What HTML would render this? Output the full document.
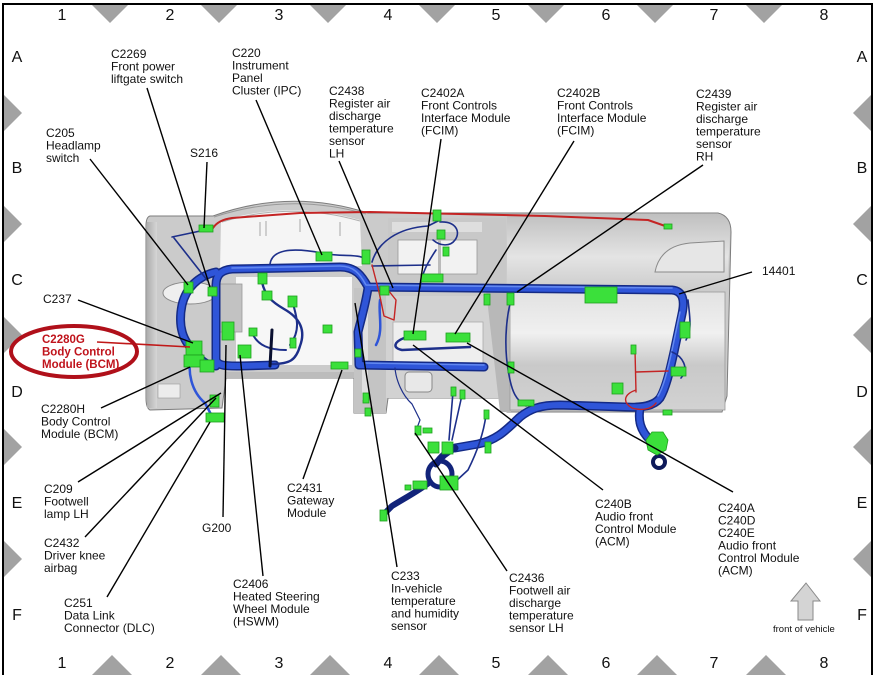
<!DOCTYPE html>
<html><head><meta charset="utf-8"><style>
html,body{margin:0;padding:0;background:#fff;}
svg{display:block;}
text{font-family:"Liberation Sans",Arial,sans-serif;}
</style></head><body>
<svg width="877" height="675" viewBox="0 0 877 675" xmlns="http://www.w3.org/2000/svg">
<defs>
<linearGradient id="gR" x1="0" y1="0" x2="0" y2="1"><stop offset="0" stop-color="#c0c0c0"/><stop offset=".55" stop-color="#e4e4e4"/><stop offset="1" stop-color="#cacaca"/></linearGradient>
<linearGradient id="gG" x1="0" y1="0" x2="0" y2="1"><stop offset="0" stop-color="#e2e2e2"/><stop offset=".35" stop-color="#f0f0f0"/><stop offset=".62" stop-color="#c9c9c9"/><stop offset="1" stop-color="#d2d2d2"/></linearGradient>
<linearGradient id="gL" x1="0" y1="0" x2="1" y2="0"><stop offset="0" stop-color="#aeaeae"/><stop offset="1" stop-color="#d6d6d6"/></linearGradient>
</defs>
<rect width="877" height="675" fill="#fff"/>
<!-- frame -->
<rect x="3" y="4" width="869" height="700" fill="none" stroke="#000" stroke-width="2"/>
<g fill="#a2a2a2">
<polygon points="92,5 128,5 110,23"/><polygon points="201,5 237,5 219,23"/><polygon points="310,5 346,5 328,23"/><polygon points="419,5 455,5 437,23"/><polygon points="528,5 564,5 546,23"/><polygon points="637,5 673,5 655,23"/><polygon points="746,5 782,5 764,23"/>
<polygon points="91,676 133,676 112,655"/><polygon points="200,676 242,676 221,655"/><polygon points="309,676 351,676 330,655"/><polygon points="418,676 460,676 439,655"/><polygon points="527,676 569,676 548,655"/><polygon points="636,676 678,676 657,655"/><polygon points="745,676 787,676 766,655"/>
<polygon points="4,95 4,131 22,113"/><polygon points="4,206 4,242 22,224"/><polygon points="4,317 4,353 22,335"/><polygon points="4,429 4,465 22,447"/><polygon points="4,541 4,577 22,559"/>
<polygon points="871,95 871,131 853,113"/><polygon points="871,206 871,242 853,224"/><polygon points="871,317 871,353 853,335"/><polygon points="871,429 871,465 853,447"/><polygon points="871,541 871,577 853,559"/>
</g>
<g font-size="16" fill="#111" text-anchor="middle">
<text x="62" y="20">1</text><text x="170" y="20">2</text><text x="279" y="20">3</text><text x="388" y="20">4</text><text x="496" y="20">5</text><text x="606" y="20">6</text><text x="714" y="20">7</text><text x="824" y="20">8</text>
<text x="62" y="668">1</text><text x="170" y="668">2</text><text x="279" y="668">3</text><text x="388" y="668">4</text><text x="496" y="668">5</text><text x="606" y="668">6</text><text x="714" y="668">7</text><text x="824" y="668">8</text>
<text x="17" y="62">A</text><text x="17" y="173">B</text><text x="17" y="285">C</text><text x="17" y="397">D</text><text x="17" y="508">E</text><text x="17" y="620">F</text>
<text x="862" y="62">A</text><text x="862" y="173">B</text><text x="862" y="285">C</text><text x="862" y="397">D</text><text x="862" y="508">E</text><text x="862" y="620">F</text>
</g>

<!-- dashboard body -->
<path d="M150,216 L213,216 Q290,188 368,213 L718,213 Q731,216 731,232 L727,396 L722,412 L507,412 L505,398 L388,398 L386,413 L354,413 L354,378 L226,378 L222,408 L150,410 Q146,408 146,398 L146,226 Q146,217 150,216 Z" fill="#cbcbcb" stroke="#7d7d7d"/>
<rect x="147" y="222" width="10" height="186" fill="url(#gL)"/>
<path d="M221,221 Q290,200 360,220 L362,266 L220,270 Z" fill="#f5f5f5"/>
<g stroke="#b4b4b4" stroke-width="1.2">
<line x1="260" y1="222" x2="260" y2="236"/><line x1="266" y1="221" x2="266" y2="236"/><line x1="300" y1="219" x2="300" y2="232"/><line x1="340" y1="222" x2="340" y2="236"/>
</g>
<path d="M214,217 Q290,192 366,214" fill="none" stroke="#9a9a9a"/>
<path d="M222,222 Q290,201 360,221" fill="none" stroke="#b0b0b0"/>
<rect x="236" y="277" width="116" height="88" fill="#f7f7f7"/>
<rect x="216" y="284" width="26" height="48" fill="#c2c2c2" stroke="#999" stroke-width=".8"/>
<ellipse cx="190" cy="293" rx="27" ry="11" fill="#efefef" stroke="#8a8a8a"/>
<rect x="158" y="384" width="22" height="14" fill="#ececec" stroke="#999" stroke-width=".6"/>
<rect x="226" y="372" width="128" height="6" fill="#bcbcbc"/>
<rect x="354" y="288" width="32" height="125" fill="#c4c4c4"/>
<rect x="362" y="300" width="6" height="100" fill="#e0e0e0"/>
<rect x="388" y="218" width="118" height="70" fill="#c8c8c8"/>
<rect x="398" y="240" width="79" height="34" fill="#f2f2f2" stroke="#999" stroke-width=".8"/>
<rect x="438" y="240" width="3" height="34" fill="#bbb"/>
<rect x="392" y="222" width="90" height="10" fill="#dedede"/>
<rect x="386" y="296" width="120" height="102" fill="#d2d2d2"/>
<rect x="393" y="322" width="90" height="44" fill="#eeeeee" stroke="#aaa" stroke-width=".8"/>
<rect x="405" y="372" width="27" height="20" rx="4" fill="#e8e8e8" stroke="#888"/>
<path d="M507,214 L718,214 Q730,216 730,232 L727,292 L507,292 Z" fill="url(#gR)"/>
<path d="M655,272 Q660,246 690,243 L724,241 L724,272 Z" fill="#e6e6e6" stroke="#8a8a8a"/>
<polygon points="486,290 508,290 511,412 500,412" fill="#b8b8b8"/>
<rect x="510" y="292" width="215" height="118" fill="url(#gG)" stroke="#999" stroke-width=".8"/>

<!-- harness -->
<g fill="none" stroke-linecap="round" stroke-linejoin="round">
<path d="M213,228 Q218,220 232,218 L300,213 L370,212 L545,216 L648,220 L668,227" stroke="#c42424" stroke-width="2"/>
<g stroke="#142a86" stroke-width="9">
<path d="M216,322 L216,285 C216,274 222,270 232,269 L340,267 C356,267 362,276 368,287 L672,290 C683,291 685,300 682,314 L674,352 C670,370 666,388 660,398 C654,406 642,408 625,407 L560,405 C540,405 530,409 520,417 C508,428 498,440 478,444 L455,448"/>
<path d="M216,272 C198,276 186,288 182,305 C178,325 182,342 196,352 C200,360 205,365 216,366"/>
<path d="M216,318 L216,360 C218,366 226,366 240,366 L275,365"/>
<path d="M368,288 C366,302 362,316 358,332 L359,365 L484,367"/>
<path d="M640,408 C638,420 640,430 650,440"/>
</g>
<g stroke="#2f55d8" stroke-width="6">
<path d="M216,322 L216,285 C216,274 222,270 232,269 L340,267 C356,267 362,276 368,287 L672,290 C683,291 685,300 682,314 L674,352 C670,370 666,388 660,398 C654,406 642,408 625,407 L560,405 C540,405 530,409 520,417 C508,428 498,440 478,444 L455,448"/>
<path d="M216,272 C198,276 186,288 182,305 C178,325 182,342 196,352 C200,360 205,365 216,366"/>
<path d="M216,318 L216,360 C218,366 226,366 240,366 L275,365"/>
<path d="M368,288 C366,302 362,316 358,332 L359,365 L484,367"/>
<path d="M640,408 C638,420 640,430 650,440"/>
</g>
<g stroke="#6288f0" stroke-width="1.6">
<path d="M232,268 L340,266 C354,266 360,274 366,285 L672,288"/>
<path d="M366,363 L484,365"/>
<path d="M680,312 L672,350 C668,368 664,386 658,396"/>
</g>
<g stroke="#12237a">
<path d="M455,448 C446,452 440,458 436,464" stroke-width="7"/>
<ellipse cx="440" cy="474" rx="12" ry="13" stroke-width="5"/>
<path d="M430,482 C420,490 405,498 392,506 L384,514" stroke-width="6"/>
<circle cx="659" cy="462" r="6" stroke="#0e1a5a" stroke-width="4"/>
</g>
<g stroke="#1d2f8a" stroke-width="1.6">
<path d="M174,238 L207,280"/><path d="M172,237 L205,230"/>
<path d="M270,264 C272,250 290,247 322,253 C345,258 362,252 368,262"/>
<path d="M372,262 C378,242 398,228 428,226 L440,220"/>
<path d="M440,222 C456,221 461,232 455,240 C450,247 440,246 433,240"/>
<path d="M372,266 L430,265"/>
<path d="M420,288 C422,272 428,262 436,250"/>
<path d="M262,282 C265,296 272,302 284,309 C300,318 306,330 300,346 C296,360 290,364 272,364" stroke-width="2.4"/>
<path d="M292,300 C297,318 301,330 290,345" stroke-width="2"/>
<path d="M252,333 C258,346 270,350 286,350" stroke-width="2"/>
<path d="M272,330 L270,366" stroke="#0a1030" stroke-width="3"/>
<path d="M512,296 C505,320 504,350 509,375 C512,392 516,400 526,406"/>
<path d="M688,300 C690,318 692,330 686,340"/>
<path d="M672,352 C682,356 690,368 681,378"/>
<path d="M395,368 C396,380 402,395 412,404 L420,420 L417,428" stroke-width="1.2"/>
<path d="M453,392 L449,440"/><path d="M462,395 L452,440"/>
<path d="M486,415 C484,430 478,450 468,470 L455,482"/>
<path d="M380,300 C378,315 384,330 376,345" stroke="#2f55d8" stroke-width="2.5"/>
<path d="M404,338 C394,342 392,348 402,350 L470,347" stroke-width="2.5"/>
<path d="M192,352 C186,372 192,392 205,403 L214,420" stroke="#2f55d8" stroke-width="2.5"/>
</g>
<g stroke="#c42424" stroke-width="1.4">
<path d="M372,265 L379,292 L384,316 L394,320 L396,300 L388,290"/>
<path d="M635,350 L636,392 M636,372 L668,371 M636,390 C624,394 622,402 632,408 C642,411 652,409 656,403"/>
</g>
</g>

<!-- connectors -->
<g fill="#3be03b" stroke="#1fa01f" stroke-width=".8">
<rect x="199" y="225" width="14" height="7"/>
<rect x="184" y="282" width="9" height="11"/><rect x="208" y="287" width="9" height="9"/>
<rect x="186" y="341" width="16" height="14"/><rect x="184" y="355" width="20" height="12"/><rect x="200" y="360" width="14" height="12"/>
<rect x="222" y="322" width="12" height="18"/><rect x="238" y="345" width="13" height="13"/>
<rect x="258" y="273" width="9" height="11"/><rect x="262" y="291" width="10" height="9"/><rect x="288" y="296" width="9" height="11"/><rect x="249" y="328" width="8" height="8"/><rect x="290" y="338" width="6" height="10"/>
<rect x="316" y="252" width="16" height="9"/><rect x="323" y="325" width="9" height="8"/><rect x="331" y="362" width="17" height="7"/>
<rect x="362" y="250" width="8" height="14"/><rect x="355" y="349" width="6" height="8"/><rect x="363" y="393" width="6" height="10"/><rect x="365" y="408" width="6" height="8"/>
<rect x="380" y="286" width="9" height="9"/>
<rect x="433" y="210" width="8" height="11"/><rect x="437" y="230" width="8" height="9"/><rect x="443" y="247" width="6" height="9"/>
<rect x="421" y="274" width="22" height="8"/>
<rect x="404" y="331" width="22" height="9"/><rect x="446" y="333" width="24" height="9"/>
<rect x="507" y="293" width="7" height="12"/><rect x="484" y="294" width="6" height="11"/>
<rect x="585" y="287" width="32" height="16"/>
<rect x="680" y="322" width="10" height="16"/><rect x="631" y="345" width="5" height="9"/><rect x="671" y="367" width="15" height="9"/><rect x="612" y="383" width="11" height="11"/><rect x="508" y="362" width="6" height="11"/><rect x="518" y="400" width="16" height="6"/><rect x="663" y="410" width="9" height="5"/><rect x="664" y="224" width="8" height="5"/>
<rect x="415" y="426" width="6" height="9"/><rect x="423" y="428" width="9" height="5"/><rect x="428" y="442" width="11" height="11"/><rect x="442" y="442" width="11" height="12"/>
<rect x="451" y="387" width="5" height="9"/><rect x="460" y="390" width="5" height="9"/><rect x="484" y="410" width="5" height="9"/><rect x="485" y="442" width="6" height="11"/>
<rect x="413" y="481" width="14" height="8"/><rect x="405" y="485" width="6" height="5"/><rect x="440" y="476" width="18" height="14"/><rect x="380" y="510" width="7" height="11"/>
<rect x="210" y="395" width="9" height="12"/><rect x="206" y="413" width="18" height="9"/>
<polygon points="652,432 663,432 668,440 666,450 657,455 648,450 646,440"/>
</g>

<!-- leader lines -->
<g stroke="#000" stroke-width="1.4" fill="none">
<line x1="147" y1="88" x2="210" y2="287"/>
<line x1="256" y1="100" x2="322" y2="255"/>
<line x1="339" y1="161" x2="393" y2="288"/>
<line x1="441" y1="139" x2="413" y2="334"/>
<line x1="574" y1="141" x2="455" y2="334"/>
<line x1="703" y1="165" x2="517" y2="292"/>
<line x1="752" y1="272" x2="679" y2="294"/>
<line x1="90" y1="159" x2="188" y2="285"/>
<line x1="207" y1="162" x2="204" y2="228"/>
<line x1="78" y1="300" x2="193" y2="343"/>
<line x1="101" y1="408" x2="190" y2="367"/>
<line x1="78" y1="482" x2="221" y2="393"/>
<line x1="85" y1="537" x2="216" y2="398"/>
<line x1="107" y1="597" x2="210" y2="422"/>
<line x1="223" y1="517" x2="226" y2="345"/>
<line x1="263" y1="576" x2="240" y2="355"/>
<line x1="303" y1="479" x2="342" y2="370"/>
<line x1="397" y1="567" x2="355" y2="303"/>
<line x1="507" y1="571" x2="415" y2="433"/>
<line x1="603" y1="490" x2="413" y2="345"/>
<line x1="733" y1="492" x2="467" y2="343"/>
</g>
<line x1="97" y1="342" x2="190" y2="347" stroke="#c01818" stroke-width="1.6"/>
<ellipse cx="74" cy="351.5" rx="63" ry="25.5" fill="none" stroke="#b0101a" stroke-width="4"/>

<!-- labels -->
<g font-size="12" fill="#111">
<text x="111" y="58">C2269<tspan x="111" dy="12.5">Front power</tspan><tspan x="111" dy="12.5">liftgate switch</tspan></text>
<text x="232" y="57">C220<tspan x="232" dy="12.5">Instrument</tspan><tspan x="232" dy="12.5">Panel</tspan><tspan x="232" dy="12.5">Cluster (IPC)</tspan></text>
<text x="329" y="95">C2438<tspan x="329" dy="12.5">Register air</tspan><tspan x="329" dy="12.5">discharge</tspan><tspan x="329" dy="12.5">temperature</tspan><tspan x="329" dy="12.5">sensor</tspan><tspan x="329" dy="12.5">LH</tspan></text>
<text x="421" y="97">C2402A<tspan x="421" dy="12.5">Front Controls</tspan><tspan x="421" dy="12.5">Interface Module</tspan><tspan x="421" dy="12.5">(FCIM)</tspan></text>
<text x="557" y="97">C2402B<tspan x="557" dy="12.5">Front Controls</tspan><tspan x="557" dy="12.5">Interface Module</tspan><tspan x="557" dy="12.5">(FCIM)</tspan></text>
<text x="696" y="98">C2439<tspan x="696" dy="12.5">Register air</tspan><tspan x="696" dy="12.5">discharge</tspan><tspan x="696" dy="12.5">temperature</tspan><tspan x="696" dy="12.5">sensor</tspan><tspan x="696" dy="12.5">RH</tspan></text>
<text x="46" y="137">C205<tspan x="46" dy="12.5">Headlamp</tspan><tspan x="46" dy="12.5">switch</tspan></text>
<text x="190" y="157">S216</text>
<text x="762" y="275">14401</text>
<text x="43" y="303">C237</text>
<text x="41" y="413">C2280H<tspan x="41" dy="12.5">Body Control</tspan><tspan x="41" dy="12.5">Module (BCM)</tspan></text>
<text x="44" y="493">C209<tspan x="44" dy="12.5">Footwell</tspan><tspan x="44" dy="12.5">lamp LH</tspan></text>
<text x="44" y="547">C2432<tspan x="44" dy="12.5">Driver knee</tspan><tspan x="44" dy="12.5">airbag</tspan></text>
<text x="202" y="532">G200</text>
<text x="287" y="492">C2431<tspan x="287" dy="12.5">Gateway</tspan><tspan x="287" dy="12.5">Module</tspan></text>
<text x="391" y="580">C233<tspan x="391" dy="12.5">In-vehicle</tspan><tspan x="391" dy="12.5">temperature</tspan><tspan x="391" dy="12.5">and humidity</tspan><tspan x="391" dy="12.5">sensor</tspan></text>
<text x="64" y="607">C251<tspan x="64" dy="12.5">Data Link</tspan><tspan x="64" dy="12.5">Connector (DLC)</tspan></text>
<text x="233" y="588">C2406<tspan x="233" dy="12.5">Heated Steering</tspan><tspan x="233" dy="12.5">Wheel Module</tspan><tspan x="233" dy="12.5">(HSWM)</tspan></text>
<text x="509" y="582">C2436<tspan x="509" dy="12.5">Footwell air</tspan><tspan x="509" dy="12.5">discharge</tspan><tspan x="509" dy="12.5">temperature</tspan><tspan x="509" dy="12.5">sensor LH</tspan></text>
<text x="595" y="508">C240B<tspan x="595" dy="12.5">Audio front</tspan><tspan x="595" dy="12.5">Control Module</tspan><tspan x="595" dy="12.5">(ACM)</tspan></text>
<text x="718" y="512">C240A<tspan x="718" dy="12.5">C240D</tspan><tspan x="718" dy="12.5">C240E</tspan><tspan x="718" dy="12.5">Audio front</tspan><tspan x="718" dy="12.5">Control Module</tspan><tspan x="718" dy="12.5">(ACM)</tspan></text>
</g>
<text x="42" y="343" font-size="11.5" font-weight="bold" fill="#c0141c">C2280G<tspan x="42" dy="12.5">Body Control</tspan><tspan x="42" dy="12.5">Module (BCM)</tspan></text>

<polygon points="806,583 820,601 813,601 813,620 798,620 798,601 791,601" fill="#d4d4d4" stroke="#8a8a8a"/>
<text x="773" y="632" font-size="9.5" fill="#111">front of vehicle</text>
</svg>
</body></html>
